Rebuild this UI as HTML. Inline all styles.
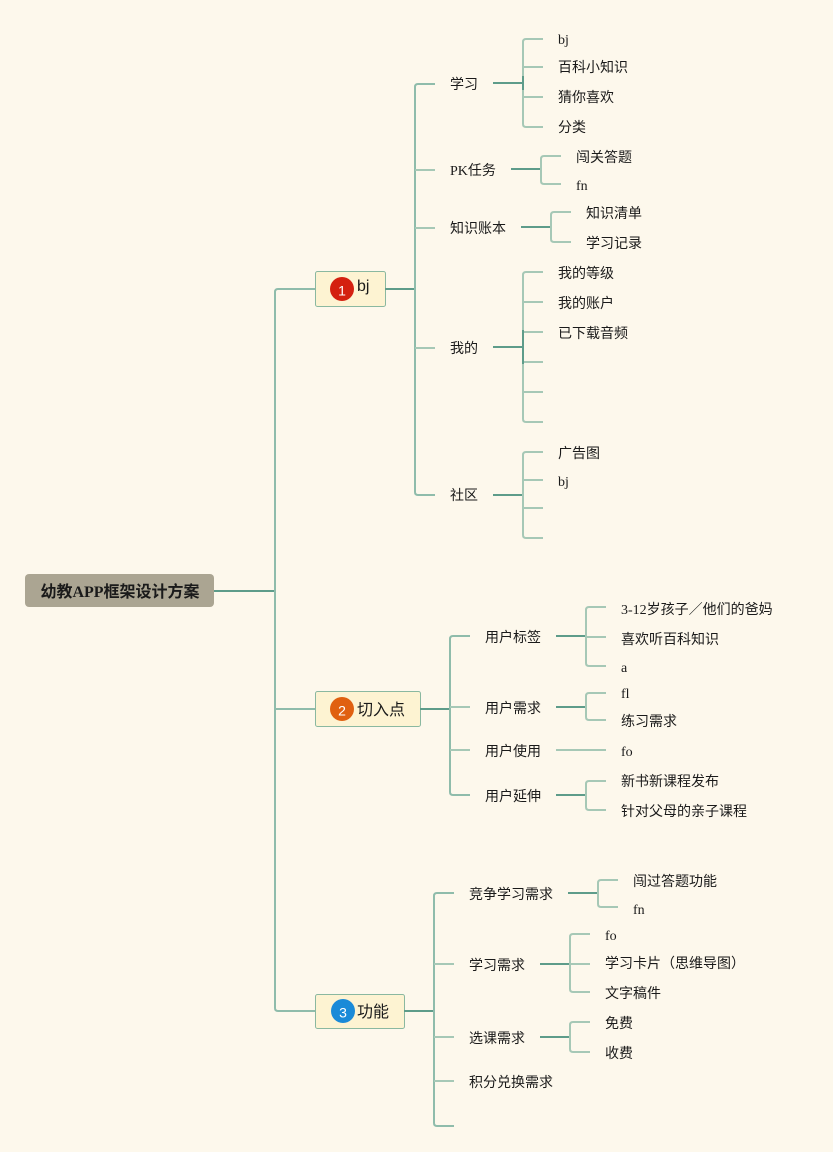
<!DOCTYPE html>
<html><head><meta charset="utf-8">
<style>
html,body{margin:0;padding:0;background:#fdf8ec;}
svg{display:block;}
text{font-family:"Liberation Serif","Noto Sans CJK SC",serif;font-size:14px;fill:#1a1a1a;dominant-baseline:central;transform:translateY(1.5px);}
.n{font-family:"Liberation Sans","Noto Sans CJK SC",sans-serif;font-size:16px;}
.b{font-family:"Liberation Sans",sans-serif;font-size:14px;fill:#fff;text-anchor:middle;transform:translateY(0.5px);}
.r{font-weight:bold;font-size:16px;text-anchor:middle;}
.d{stroke:#5e9c8a;stroke-width:2;fill:none;}
.l{stroke:#a6c8b6;stroke-width:2;fill:none;}
.v{stroke:#8fbcab;stroke-width:2;fill:none;}
</style></head>
<body>
<svg width="833" height="1152" viewBox="0 0 833 1152" xmlns="http://www.w3.org/2000/svg">
<rect width="833" height="1152" fill="#fdf8ec"/>

<!-- trunk -->
<path class="d" d="M214 591 H275"/>
<path class="v" d="M315 289 H278 Q275 289 275 292 V1008 Q275 1011 278 1011 H315"/>
<path class="v" d="M275 709 H315"/>

<!-- root -->
<rect x="25" y="574" width="189" height="33" rx="4" fill="#aba592"/>
<text class="r" x="120" y="591">幼教APP框架设计方案</text>

<!-- node1 -->
<rect x="315.5" y="271.5" width="70" height="35" rx="2" fill="#fdf3d2" stroke="#8ab8a0"/>
<circle cx="342" cy="289" r="12" fill="#d42010"/>
<text class="b" x="342" y="290">1</text>
<text class="n" x="357" y="285">bj</text>

<path class="d" d="M385 289 H415"/>
<path class="v" d="M435 84 H418 Q415 84 415 87 V492 Q415 495 418 495 H435"/>
<path class="l" d="M415 170 H435 M415 228 H435 M415 348 H435"/>
<text x="450" y="84">学习</text>
<text x="450" y="170">PK任务</text>
<text x="450" y="228">知识账本</text>
<text x="450" y="348">我的</text>
<text x="450" y="495">社区</text>

<!-- 学习 -->
<path class="d" d="M493 83 H523"/>
<path class="l" d="M543 39 H526 Q523 39 523 42 V124 Q523 127 526 127 H543 M523 67 H543 M523 97 H543"/>
<path class="d" d="M523 76 V90"/>
<text x="558" y="39">bj</text>
<text x="558" y="67">百科小知识</text>
<text x="558" y="97">猜你喜欢</text>
<text x="558" y="127">分类</text>

<!-- PK -->
<path class="d" d="M511 169 H541"/>
<path class="l" d="M561 156 H544 Q541 156 541 159 V181 Q541 184 544 184 H561"/>
<text x="576" y="157">闯关答题</text>
<text x="576" y="185">fn</text>

<!-- 知识账本 -->
<path class="d" d="M521 227 H551"/>
<path class="l" d="M571 212 H554 Q551 212 551 215 V239 Q551 242 554 242 H571"/>
<text x="586" y="213">知识清单</text>
<text x="586" y="243">学习记录</text>

<!-- 我的 -->
<path class="d" d="M493 347 H523"/>
<path class="l" d="M543 272 H526 Q523 272 523 275 V419 Q523 422 526 422 H543 M523 302 H543 M523 332 H543 M523 362 H543 M523 392 H543"/>
<path class="d" d="M523 330 V364"/>
<text x="558" y="273">我的等级</text>
<text x="558" y="303">我的账户</text>
<text x="558" y="333">已下载音频</text>

<!-- 社区 -->
<path class="d" d="M493 495 H523"/>
<path class="l" d="M543 452 H526 Q523 452 523 455 V535 Q523 538 526 538 H543 M523 480 H543 M523 508 H543"/>
<text x="558" y="453">广告图</text>
<text x="558" y="481">bj</text>

<!-- node2 -->
<rect x="315.5" y="691.5" width="105" height="35" rx="2" fill="#fdf3d2" stroke="#8ab8a0"/>
<circle cx="342" cy="709" r="12" fill="#e06010"/>
<text class="b" x="342" y="710">2</text>
<text class="n" x="357" y="709">切入点</text>

<path class="d" d="M420 709 H450"/>
<path class="v" d="M470 636 H453 Q450 636 450 639 V792 Q450 795 453 795 H470"/>
<path class="l" d="M450 707 H470 M450 750 H470"/>
<text x="485" y="637">用户标签</text>
<text x="485" y="708">用户需求</text>
<text x="485" y="751">用户使用</text>
<text x="485" y="796">用户延伸</text>

<path class="d" d="M556 636 H586"/>
<path class="l" d="M606 607 H589 Q586 607 586 610 V663 Q586 666 589 666 H606 M586 637 H606"/>
<text x="621" y="609">3-12岁孩子／他们的爸妈</text>
<text x="621" y="639">喜欢听百科知识</text>
<text x="621" y="667">a</text>

<path class="d" d="M556 707 H586"/>
<path class="l" d="M606 693 H589 Q586 693 586 696 V717 Q586 720 589 720 H606"/>
<text x="621" y="693">fl</text>
<text x="621" y="721">练习需求</text>

<path class="l" d="M556 750 H606"/>
<text x="621" y="751">fo</text>

<path class="d" d="M556 795 H586"/>
<path class="l" d="M606 781 H589 Q586 781 586 784 V807 Q586 810 589 810 H606"/>
<text x="621" y="781">新书新课程发布</text>
<text x="621" y="811">针对父母的亲子课程</text>

<!-- node3 -->
<rect x="315.5" y="994.5" width="89" height="34" rx="2" fill="#fdf3d2" stroke="#8ab8a0"/>
<circle cx="343" cy="1011" r="12" fill="#1a8ad8"/>
<text class="b" x="343" y="1012">3</text>
<text class="n" x="357" y="1011">功能</text>

<path class="d" d="M404 1011 H434"/>
<path class="v" d="M454 893 H437 Q434 893 434 896 V1123 Q434 1126 437 1126 H454"/>
<path class="l" d="M434 964 H454 M434 1037 H454 M434 1081 H454"/>
<text x="469" y="894">竞争学习需求</text>
<text x="469" y="965">学习需求</text>
<text x="469" y="1038">选课需求</text>
<text x="469" y="1082">积分兑换需求</text>

<path class="d" d="M568 893 H598"/>
<path class="l" d="M618 880 H601 Q598 880 598 883 V904 Q598 907 601 907 H618"/>
<text x="633" y="881">闯过答题功能</text>
<text x="633" y="909">fn</text>

<path class="d" d="M540 964 H570"/>
<path class="l" d="M590 934 H573 Q570 934 570 937 V989 Q570 992 573 992 H590 M570 964 H590"/>
<text x="605" y="935">fo</text>
<text x="605" y="963">学习卡片（思维导图）</text>
<text x="605" y="993">文字稿件</text>

<path class="d" d="M540 1037 H570"/>
<path class="l" d="M590 1022 H573 Q570 1022 570 1025 V1049 Q570 1052 573 1052 H590"/>
<text x="605" y="1023">免费</text>
<text x="605" y="1053">收费</text>
</svg>
</body></html>
